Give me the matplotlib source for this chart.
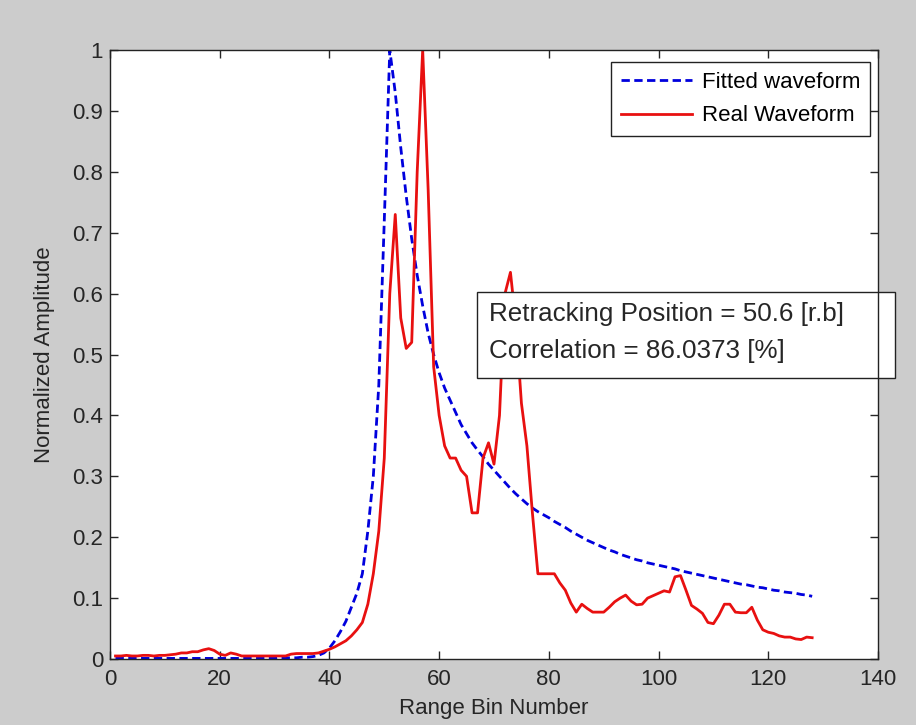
import matplotlib
matplotlib.use("Agg")
import matplotlib.pyplot as plt
from matplotlib.patches import Rectangle

plt.rcParams["font.family"] = ["Liberation Sans", "DejaVu Sans"]

# ── Data ──────────────────────────────────────────────────────────────────────
bins = list(range(1, 129))

fitted = [
    0.001, 0.001, 0.001, 0.001, 0.001, 0.001, 0.001, 0.001, 0.001, 0.001,
    0.001, 0.001, 0.001, 0.001, 0.001, 0.001, 0.001, 0.001, 0.001, 0.001,
    0.001, 0.001, 0.001, 0.001, 0.001, 0.001, 0.001, 0.001, 0.001, 0.001,
    0.002, 0.002, 0.002, 0.002, 0.003, 0.003, 0.004, 0.006, 0.010, 0.018,
    0.030, 0.045, 0.062, 0.085, 0.108, 0.140, 0.210, 0.300, 0.450, 0.720,
    1.000, 0.930, 0.840, 0.760, 0.690, 0.630, 0.580, 0.535, 0.500, 0.470,
    0.445, 0.425, 0.405, 0.385, 0.370, 0.355, 0.343, 0.332, 0.320, 0.310,
    0.300, 0.290, 0.280, 0.271, 0.263, 0.255, 0.248, 0.242, 0.237, 0.232,
    0.226, 0.221, 0.216, 0.210, 0.205, 0.200, 0.195, 0.191, 0.187, 0.183,
    0.179, 0.176, 0.172, 0.169, 0.166, 0.163, 0.161, 0.158, 0.156, 0.154,
    0.152, 0.150, 0.148, 0.145, 0.143, 0.141, 0.139, 0.137, 0.135, 0.133,
    0.131, 0.129, 0.127, 0.125, 0.123, 0.122, 0.120, 0.118, 0.117, 0.115,
    0.113, 0.112, 0.110, 0.109, 0.108, 0.106, 0.105, 0.103,
]

real = [
    0.005, 0.005, 0.006, 0.005, 0.005, 0.006, 0.006, 0.005, 0.006, 0.006,
    0.007, 0.008, 0.010, 0.010, 0.012, 0.012, 0.015, 0.017, 0.014, 0.008,
    0.006, 0.010, 0.008, 0.005, 0.005, 0.005, 0.005, 0.005, 0.005, 0.005,
    0.005, 0.005, 0.008, 0.009, 0.009, 0.009, 0.009, 0.010, 0.013, 0.016,
    0.020, 0.025, 0.030, 0.038, 0.048, 0.060, 0.090, 0.140, 0.210, 0.330,
    0.600, 0.730, 0.560, 0.510, 0.520, 0.800, 1.000, 0.770, 0.480, 0.400,
    0.350, 0.330, 0.330, 0.310, 0.300, 0.240, 0.240, 0.330, 0.355, 0.320,
    0.400, 0.600, 0.635, 0.550, 0.420, 0.350, 0.240, 0.140, 0.140, 0.140,
    0.140, 0.125, 0.113, 0.092, 0.077, 0.090, 0.083, 0.077, 0.077, 0.077,
    0.085, 0.094, 0.100, 0.105, 0.095, 0.089, 0.090, 0.100, 0.104, 0.108,
    0.112, 0.110, 0.135, 0.137, 0.113, 0.088, 0.082, 0.075, 0.060, 0.058,
    0.072, 0.090, 0.090, 0.077, 0.076, 0.076, 0.085, 0.064, 0.048, 0.044,
    0.042, 0.038, 0.036, 0.036, 0.033, 0.032, 0.036, 0.035,
]

xticks = [0, 20, 40, 60, 80, 100, 120, 140]
yticks = [0, 0.1, 0.2, 0.3, 0.4, 0.5, 0.6, 0.7, 0.8, 0.9, 1]
ytick_labels = ["0", "0.1", "0.2", "0.3", "0.4", "0.5", "0.6", "0.7", "0.8", "0.9", "1"]

info_lines = ["Retracking Position = 50.6 [r.b]", "Correlation = 86.0373 [%]"]

# ── Figure ────────────────────────────────────────────────────────────────────
fig = plt.figure(figsize=(9.16, 7.25), dpi=100, facecolor="#cccccc")
ax = fig.add_axes([0.1201, 0.091, 0.8384, 0.840])
ax.set_facecolor("white")

ax.plot(bins, fitted, color="#0000dd", lw=2.0, ls=(0, (3, 1.6)), label="Fitted waveform")
ax.plot(bins, real, color="#e81010", lw=2.0, label="Real Waveform")

ax.set_xlim(0, 140)
ax.set_ylim(0, 1)
ax.set_xticks(xticks)
ax.set_xticklabels([str(t) for t in xticks])
ax.set_yticks(yticks)
ax.set_yticklabels(ytick_labels)
ax.tick_params(direction="in", top=True, right=True, length=6, width=1,
               labelsize=16, colors="#262626")
ax.tick_params(axis="x", pad=7)
ax.tick_params(axis="y", pad=5)
for s in ax.spines.values():
    s.set_linewidth(1.0)
    s.set_color("#222222")

ax.set_xlabel("Range Bin Number", fontsize=16, color="#262626", labelpad=6)
ax.set_ylabel("Normalized Amplitude", fontsize=16, color="#262626", labelpad=12)

leg = ax.legend(loc="upper right", bbox_to_anchor=(0.99, 0.98), borderaxespad=0,
                fontsize=16, fancybox=False, framealpha=1, edgecolor="#222222",
                handlelength=3.2, handletextpad=0.45, borderpad=0.45,
                labelspacing=0.55)
leg.get_frame().set_linewidth(1.0)

# info box, partly outside the axes
box = Rectangle((0.478, 0.461), 0.544, 0.142, transform=ax.transAxes,
                facecolor="white", edgecolor="#222222", lw=1.0,
                clip_on=False, zorder=2.2)
ax.add_patch(box)
ax.text(0.4935, 0.536, "\n".join(info_lines), transform=ax.transAxes,
        fontsize=18.7, color="#262626", va="center", ha="left",
        linespacing=1.7, zorder=2.3)

fig.savefig("out.png", dpi=100, facecolor=fig.get_facecolor())
